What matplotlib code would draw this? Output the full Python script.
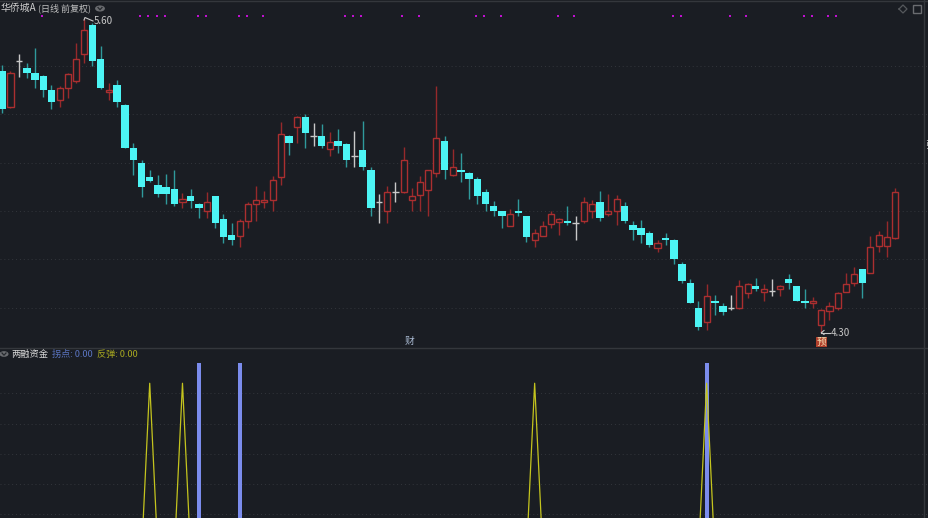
import numpy as np
import matplotlib
matplotlib.use('Agg')
import matplotlib.pyplot as plt
from matplotlib.patches import Rectangle

plt.rcParams['font.family'] = ['Noto Sans CJK SC', 'DejaVu Sans']

# daily prices
opens = [5.385,5.236,5.426,5.397,5.377,5.364,5.306,5.265,5.315,5.344,5.455,5.576,5.435,5.298,5.327,5.244,5.066,5.004,4.946,4.913,
         4.905,4.897,4.843,4.867,4.834,4.805,4.867,4.772,4.706,4.702,4.764,4.834,4.843,4.851,4.946,5.116,5.153,5.195,5.116,5.116,
         5.062,5.095,5.083,5.033,5.058,4.975,4.843,4.805,4.884,4.884,4.851,4.872,4.892,4.963,5.095,4.954,4.975,4.963,4.938,4.884,
         4.826,4.805,4.743,4.805,4.785,4.685,4.702,4.752,4.760,4.764,4.756,4.764,4.805,4.843,4.793,4.805,4.826,4.747,4.735,4.714,
         4.652,4.694,4.685,4.586,4.507,4.404,4.346,4.433,4.412,4.404,4.404,4.466,4.495,4.470,4.474,4.483,4.524,4.495,4.433,4.424,
         4.333,4.391,4.404,4.470,4.507,4.565,4.549,4.661,4.661,4.694]
highs = [5.409,5.385,5.455,5.418,5.480,5.369,5.327,5.323,5.377,5.501,5.600,5.584,5.489,5.335,5.348,5.248,5.087,5.016,4.975,4.954,
         4.958,4.975,4.880,4.897,4.839,4.884,4.867,4.793,4.756,4.772,4.843,4.909,4.888,4.950,5.174,5.120,5.199,5.207,5.170,5.166,
         5.133,5.145,5.087,5.137,5.178,4.987,4.876,4.909,4.925,5.070,4.901,4.950,4.975,5.323,5.116,5.062,5.046,4.967,4.946,4.897,
         4.847,4.805,4.814,4.855,4.785,4.731,4.764,4.805,4.776,4.826,4.785,4.863,4.851,4.888,4.876,4.872,4.843,4.764,4.768,4.723,
         4.685,4.714,4.689,4.594,4.524,4.433,4.503,4.458,4.424,4.458,4.520,4.507,4.528,4.503,4.524,4.499,4.545,4.495,4.483,4.450,
         4.400,4.429,4.470,4.549,4.574,4.565,4.702,4.723,4.764,4.901]
lows = [5.211,5.232,5.360,5.356,5.315,5.277,5.227,5.236,5.273,5.335,5.418,5.406,5.310,5.265,5.236,5.066,4.954,4.863,4.925,4.863,
        4.834,4.826,4.818,4.818,4.776,4.776,4.735,4.673,4.665,4.656,4.735,4.764,4.818,4.805,4.913,5.037,5.087,5.066,5.075,5.066,
        5.033,5.046,4.987,4.987,4.975,4.785,4.756,4.756,4.843,4.880,4.805,4.805,4.785,4.946,4.938,4.950,4.925,4.855,4.834,4.805,
        4.785,4.735,4.743,4.785,4.677,4.656,4.702,4.735,4.706,4.747,4.685,4.756,4.776,4.764,4.785,4.747,4.756,4.685,4.673,4.656,
        4.636,4.665,4.586,4.507,4.424,4.313,4.313,4.375,4.375,4.395,4.400,4.445,4.474,4.433,4.454,4.454,4.483,4.433,4.404,4.404,
        4.300,4.354,4.395,4.470,4.495,4.445,4.549,4.636,4.615,4.689]
closes = [5.227,5.377,5.426,5.377,5.348,5.306,5.257,5.315,5.373,5.435,5.554,5.426,5.315,5.306,5.257,5.066,5.016,4.905,4.930,4.876,
          4.876,4.834,4.855,4.847,4.818,4.843,4.756,4.698,4.685,4.764,4.834,4.851,4.851,4.934,5.124,5.087,5.195,5.128,5.116,5.075,
          5.091,5.075,5.016,5.033,4.987,4.818,4.843,4.884,4.884,5.016,4.867,4.925,4.975,5.108,4.975,4.987,4.967,4.938,4.867,4.834,
          4.805,4.785,4.793,4.797,4.698,4.714,4.743,4.793,4.772,4.756,4.756,4.843,4.834,4.776,4.805,4.855,4.764,4.727,4.706,4.665,
          4.673,4.685,4.607,4.516,4.424,4.325,4.454,4.424,4.387,4.404,4.495,4.503,4.483,4.483,4.474,4.495,4.507,4.433,4.424,4.433,
          4.395,4.412,4.466,4.503,4.545,4.507,4.656,4.706,4.698,4.884]

grid_prices = [5.406, 5.207, 5.004, 4.805, 4.607, 4.404]
dot_days = [5,17,18,19,20,24,25,29,30,32,42,43,44,49,51,58,59,61,68,70,82,83,89,91,98,99,101,102]
dot_price = 5.613

# lower pane
pivot_days = [24, 29, 86]
pivot_value = 95
rebound_days = [18, 22, 65, 86]
rebound_value = 85
lower_grid = [80, 65, 50, 35, 20]

BG = '#1a1d23'
RED = '#ab2f30'
RED_WICK = '#96292b'
CYAN = '#4cf4f4'
CYAN_WICK = '#2f9a9c'
WHITE = '#c8c8c8'
GRID = '#33363c'
LABEL = '#c4c6c8'

W, H = 929, 518
split = 348
xlim = (-0.281, 113.15)

fig = plt.figure(figsize=(W/100, H/100), dpi=100, facecolor=BG)
ax = fig.add_axes([0, (H-split)/H, 1, split/H], facecolor=BG)
ax2 = fig.add_axes([0, 0, 1, (H-split)/H], facecolor=BG)
for a in (ax, ax2):
    a.set_xlim(*xlim)
    a.set_xticks([])
    a.set_yticks([])
    for s in a.spines.values():
        s.set_visible(False)
ax.set_ylim(4.238, 5.679)
ax2.set_ylim(18.1, 102.5)

for p in grid_prices:
    ax.axhline(p, color=GRID, lw=0.7, ls=(0, (1, 3)), zorder=1)
for v in lower_grid:
    ax2.axhline(v, color=GRID, lw=0.7, ls=(0, (1, 3)), zorder=1)

# candles
for i in range(len(opens)):
    o, h, l, c = opens[i], highs[i], lows[i], closes[i]
    if c > o:
        ax.vlines(i, l, h, color=RED_WICK, lw=1.0, zorder=2)
        ax.bar(i, c-o, bottom=o, width=0.74, facecolor=BG, edgecolor=RED, lw=1.0, zorder=3)
    elif c < o:
        ax.vlines(i, l, h, color=CYAN_WICK, lw=1.0, zorder=2)
        ax.bar(i, o-c, bottom=c, width=0.9, facecolor=CYAN, edgecolor='none', zorder=3)
    else:
        ax.vlines(i, l, h, color=WHITE, lw=1.0, zorder=2)
        ax.hlines(o, i-0.38, i+0.38, color=WHITE, lw=1.0, zorder=3)

# signal dots along the top
ax.scatter(np.array(dot_days)-0.15, [dot_price]*len(dot_days), marker='s', s=4,
           color='#c010d0', linewidths=0, zorder=4)

# lower pane signals
ax2.bar(pivot_days, [pivot_value]*len(pivot_days), width=0.5, color='#7b8cec', zorder=3)
for d in rebound_days:
    ax2.plot([d-1, d, d+1], [0, rebound_value, 0], color='#c4c41e', lw=0.9, zorder=4)


def px(x, y, s, color=LABEL, size=6.8, **kw):
    # text placed in figure pixels
    fig.text(x/W, 1-y/H, s, color=color, fontsize=size, va='center', ha=kw.pop('ha', 'left'), **kw)


def icon(x, y, r=4.2):
    fig.add_artist(plt.Circle((x/W, 1-y/H), r/W, color='#6a6c70', transform=fig.transFigure, zorder=5))
    fig.add_artist(plt.Line2D([(x-2)/W, x/W, (x+2)/W], [1-(y-1)/H, 1-(y+1.2)/H, 1-(y-1)/H],
                              color='#25282d', lw=0.9, zorder=6))


# header texts
px(0.5, 8, '华侨城A', '#d0d0d0', 7.1)
px(38, 8, '(日线 前复权)', '#c0c0c0', 6.5)
icon(100, 8.5)
px(94, 21.5, '5.60', '#c8c8c8', 7)
px(831, 333.5, '4.30', '#c8c8c8', 7)
# price arrows
fig.add_artist(plt.Line2D([84/W, 85/W, 93/W], [1-20/H, 1-17.5/H, 1-21/H], color='#c8c8c8', lw=0.8))
fig.add_artist(plt.Line2D([821.5/W, 830/W], [1-332.5/H, 1-332.5/H], color='#c8c8c8', lw=0.8))
fig.add_artist(plt.Line2D([821.5/W, 824/W], [1-332.5/H, 1-330.5/H], color='#c8c8c8', lw=0.8))
fig.add_artist(plt.Line2D([821.5/W, 824/W], [1-332.5/H, 1-334.5/H], color='#c8c8c8', lw=0.8))

px(410, 341, '财', '#a8b8d0', 7, ha='center')
fig.add_artist(Rectangle((816.5/W, 1-347/H), 10.5/W, 10/H, transform=fig.transFigure,
                         facecolor='#b0402c', edgecolor='none', zorder=5))
fig.text(821.7/W, 1-342/H, '预', color='#f4dcb0', fontsize=7, ha='center', va='center', zorder=6)

# lower pane header
icon(4, 354, 3.8)
px(11, 354, '两融资金', '#d8d8d8', 6.7)
px(52, 354, '拐点: 0.00', '#5a74c0', 6.6)
px(97, 354, '反弹: 0.00', '#a8a820', 6.6)

# separators, right border and corner icons
fig.add_artist(plt.Line2D([0, 1], [1-347.5/H, 1-347.5/H], color='#34373c', lw=1.0))
fig.add_artist(plt.Line2D([0, 1], [1-0.5/H, 1-0.5/H], color='#34373c', lw=1.0))
fig.add_artist(plt.Line2D([924.5/W, 924.5/W], [0, 1], color='#34373c', lw=1.0))
fig.add_artist(plt.Line2D([(903-4)/W, 903/W, (903+4)/W, 903/W, (903-4)/W],
                          [1-9/H, 1-5/H, 1-9/H, 1-13/H, 1-9/H], color='#55585c', lw=0.9))
fig.add_artist(Rectangle((913/W, 1-13/H), 8/W, 8/H, transform=fig.transFigure,
                         facecolor='none', edgecolor='#6a6c70', lw=1.0))
px(925, 145, '张', '#d0d0d0', 7)

fig.savefig('out.png', dpi=100, facecolor=BG)
